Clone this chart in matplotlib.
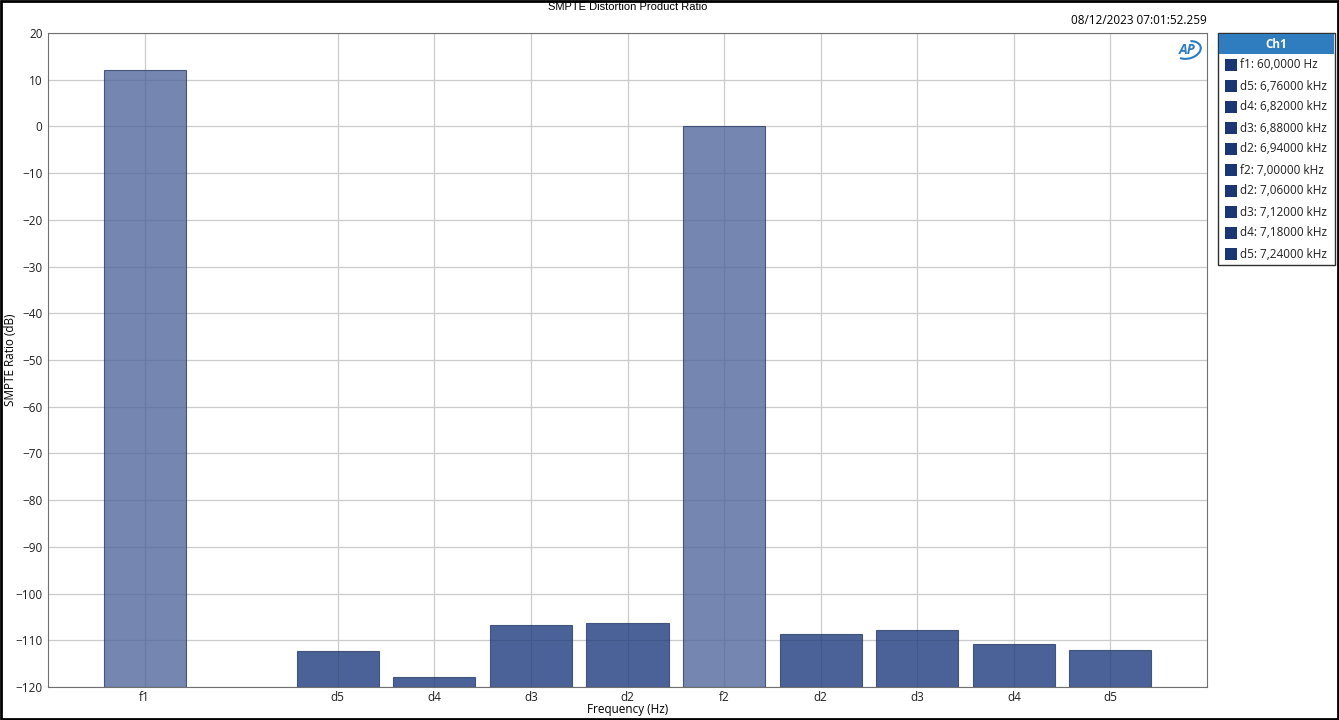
import matplotlib

matplotlib.use('Agg')
import matplotlib.pyplot as plt
from matplotlib.patches import Rectangle, Arc

plt.rcParams['font.family'] = ['Open Sans', 'DejaVu Sans']
plt.rcParams['font.size'] = 8.5

# data
labels = ['f1', 'd5', 'd4', 'd3', 'd2', 'f2', 'd2', 'd3', 'd4', 'd5']
positions = [0, 2, 3, 4, 5, 6, 7, 8, 9, 10]
ratio_db = [12.1, -112.3, -117.9, -106.7, -106.3, 0.0, -108.7, -107.8, -110.8, -112.1]
legend_items = ['f1: 60,0000 Hz', 'd5: 6,76000 kHz', 'd4: 6,82000 kHz', 'd3: 6,88000 kHz',
                'd2: 6,94000 kHz', 'f2: 7,00000 kHz', 'd2: 7,06000 kHz', 'd3: 7,12000 kHz',
                'd4: 7,18000 kHz', 'd5: 7,24000 kHz']

fig = plt.figure(figsize=(13.39, 7.2), dpi=100, facecolor='w')
ax = fig.add_axes([48 / 1339, 33 / 720, 1159 / 1339, 654 / 720])

base = -120
colors = ['#52689d' if l.startswith('f') else '#1e3b7e' for l in labels]
heights = [v - base for v in ratio_db]
ax.bar(positions, heights, bottom=base, width=0.85, color=colors, alpha=0.8,
       edgecolor='#2a3c68', linewidth=0.8, zorder=2)

ax.set_xlim(-1, 11)
ax.set_ylim(-120, 20)
ax.set_yticks(range(-120, 21, 10))
ax.set_xticks(positions)
ax.set_xticklabels(labels)
ax.grid(True, color='#cbcbcb', linewidth=0.9, zorder=1)
ax.set_axisbelow(True)
for sp in ax.spines.values():
    sp.set_color('#707070')
    sp.set_zorder(4)
ax.tick_params(axis='x', length=0, pad=3, colors='#202020')
ax.tick_params(axis='y', length=0, pad=4, colors='#202020')

fig.text(628 / 1339, 1 - 710 / 720, 'Frequency (Hz)', ha='center', va='center', fontsize=8.5)
fig.text(11 / 1339, 0.5, 'SMPTE Ratio (dB)', ha='center', va='center', rotation=90, fontsize=8.5)
fig.text(628 / 1339, 1 - 7 / 720, 'SMPTE Distortion Product Ratio', ha='center', va='center',
         fontsize=8, family=['Liberation Sans', 'DejaVu Sans'])
fig.text(1207 / 1339, 1 - 21 / 720, '08/12/2023 07:01:52.259', ha='right', va='center',
         fontsize=8.5)

# AP logo
fig.text(1187 / 1339, 1 - 50 / 720, 'AP', ha='center', va='center', fontsize=10,
         fontweight='bold', style='italic', color='#2c7cc4')
lax = fig.add_axes([0, 0, 1, 1], facecolor='none')
lax.set_xlim(0, 1339)
lax.set_ylim(720, 0)
lax.axis('off')
lax.add_patch(Arc((1188, 50), 26, 17, angle=-15, theta1=-60, theta2=150, color='#2c7cc4', lw=1.5))

# legend box
lax.add_patch(Rectangle((1218, 33), 117, 232, facecolor='w', edgecolor='#303030', lw=1))
lax.add_patch(Rectangle((1219, 34), 115, 20, facecolor='#2f7cbf', edgecolor='none'))
lax.text(1276, 44, 'Ch1', ha='center', va='center', color='w', fontsize=8.5, fontweight='bold')
for i, txt in enumerate(legend_items):
    y = 65 + i * 21
    lax.add_patch(Rectangle((1225, y - 6), 12, 12, facecolor='#1c3575', edgecolor='none'))
    lax.text(1240, y, txt, ha='left', va='center', fontsize=8.5, color='#202020')

# outer frame
lax.add_patch(Rectangle((1, 1), 1337, 718, facecolor='none', edgecolor='black', lw=2))

fig.savefig('out.png', dpi=100, facecolor='w')
